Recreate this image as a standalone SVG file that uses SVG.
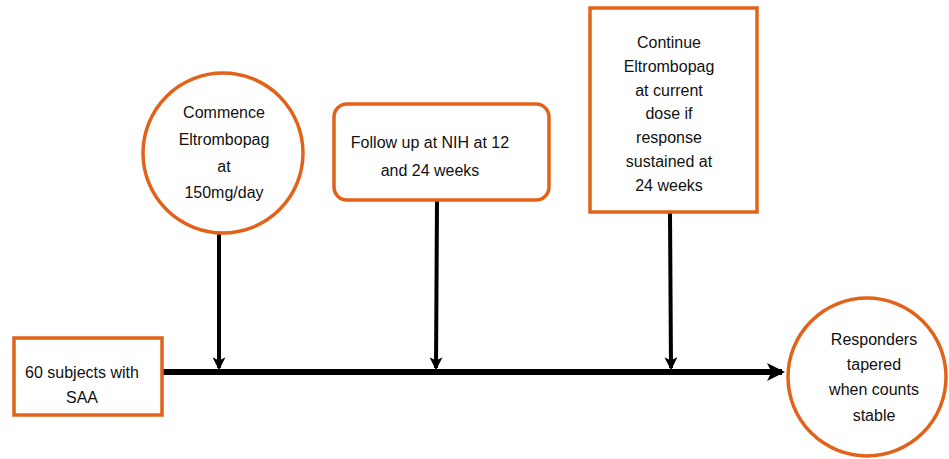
<svg xmlns="http://www.w3.org/2000/svg" width="949" height="459" viewBox="0 0 949 459">
<defs>
<style>
.node{fill:#fff;stroke:#E2621A;stroke-width:3.5}
.t{font-family:"Liberation Sans",Arial,sans-serif;font-size:16px;fill:#111;text-anchor:middle}
.conn{stroke:#000;fill:none}
</style>
<marker id="ah" viewBox="0 0 12 12" refX="10" refY="6" markerWidth="13" markerHeight="13" markerUnits="userSpaceOnUse" orient="auto">
<path d="M0,0 L12,6 L0,12 L3,6 Z" fill="#000"/>
</marker>
<marker id="ahb" viewBox="0 0 12 12" refX="10" refY="6" markerWidth="18" markerHeight="18" markerUnits="userSpaceOnUse" orient="auto">
<path d="M0,0 L12,6 L0,12 L3,6 Z" fill="#000"/>
</marker>
</defs>
<rect width="949" height="459" fill="#fff"/>
<g id="connectors">
<line class="conn" x1="163" y1="372" x2="782" y2="372" stroke-width="6" marker-end="url(#ahb)"/>
<line class="conn" x1="219" y1="234" x2="219" y2="368" stroke-width="4" marker-end="url(#ah)"/>
<line class="conn" x1="437" y1="201" x2="436" y2="368" stroke-width="4" marker-end="url(#ah)"/>
<line class="conn" x1="670" y1="213" x2="671" y2="368" stroke-width="4" marker-end="url(#ah)"/>
</g>
<g id="commence">
<circle class="node" cx="223" cy="153" r="80"/>
<text class="t" x="224" y="118">Commence</text>
<text class="t" x="224" y="145">Eltrombopag</text>
<text class="t" x="224" y="172">at</text>
<text class="t" x="224" y="198">150mg/day</text>
</g>
<g id="followup">
<rect class="node" x="334" y="104" width="215" height="96" rx="13"/>
<text class="t" x="430" y="148">Follow up at NIH at 12</text>
<text class="t" x="430" y="176">and 24 weeks</text>
</g>
<g id="continue">
<rect class="node" x="590" y="8" width="167" height="204"/>
<text class="t" x="669" y="48">Continue</text>
<text class="t" x="669" y="72">Eltrombopag</text>
<text class="t" x="669" y="96">at current</text>
<text class="t" x="669" y="119">dose if</text>
<text class="t" x="669" y="143">response</text>
<text class="t" x="669" y="167">sustained at</text>
<text class="t" x="669" y="191">24 weeks</text>
</g>
<g id="subjects">
<rect class="node" x="14" y="338" width="148" height="77"/>
<text class="t" x="82" y="378">60 subjects with</text>
<text class="t" x="82" y="403">SAA</text>
</g>
<g id="responders">
<circle class="node" cx="867" cy="377" r="79"/>
<text class="t" x="874" y="345">Responders</text>
<text class="t" x="874" y="370">tapered</text>
<text class="t" x="874" y="395">when counts</text>
<text class="t" x="874" y="421">stable</text>
</g>
</svg>
